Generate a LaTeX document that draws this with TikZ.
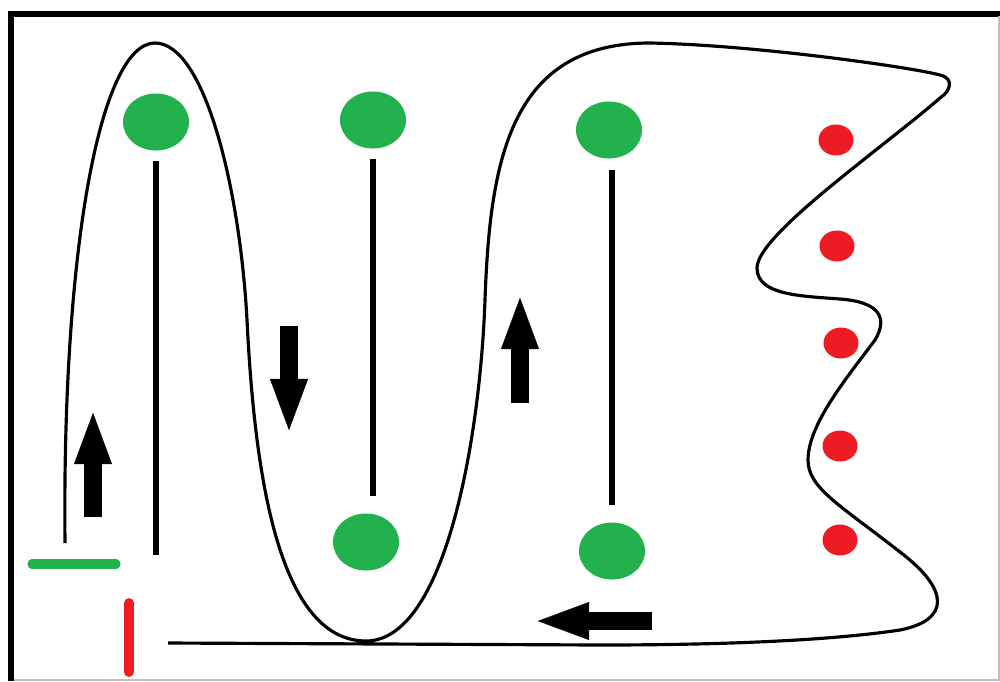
\documentclass[tikz,border=0pt]{standalone}
\usepackage{tikz}
\usetikzlibrary{arrows.meta,shapes.geometric}
\definecolor{paintgreen}{RGB}{34,177,76}
\definecolor{paintred}{RGB}{237,28,36}

\begin{document}
\begin{tikzpicture}[x=0.01cm,y=-0.01cm]
            \tikzstyle{pod}=[ellipse,fill=paintgreen,minimum width=0.66cm,minimum height=0.57cm,inner sep=0pt]
            \tikzstyle{reddot}=[ellipse,fill=paintred,minimum width=0.35cm,minimum height=0.31cm,inner sep=0pt]
            \tikzstyle{stemline}=[line width=1.7pt]
            \tikzstyle{flowarrow}=[line width=5.1pt,-{Triangle[length=0.56cm,width=0.33cm]}]
            \tikzstyle{route}=[line width=0.9pt]
            \useasboundingbox (0,0) rectangle (1000,681);

            % frame
            \draw[line width=1.6pt] (1000,14) -- (11,14) -- (11,681);
            \draw[gray!50,line width=0.4pt] (999,16) -- (999,680) -- (14,680);

            \foreach \num/\x/\y in {1/156/122, 2/373/120, 3/609/130, 4/366/542, 5/612/551}
                    \node[pod] (G-\num) at (\x,\y) {};
            \foreach \num/\x/\y in {1/836/140, 2/837/246, 3/841/343, 4/840/446, 5/840/540}
                    \node[reddot] (R-\num) at (\x,\y) {};

                \coordinate (foot) at (156,555);
                \draw[stemline,shorten <=2.8pt] (G-1) -- (foot);
                \draw[stemline,shorten <=2.8pt,shorten >=4.8pt] (G-2) -- (G-2 |- G-4.north);
                \draw[stemline,shorten <=3pt,shorten >=4.8pt] (G-5 |- G-3.south) -- (G-5.north);

                \foreach \lbl/\xa/\ya/\xb/\yb in {up-1/93/517/93/408, down/289/326/289/435, up-2/520/403/520/293, back/652/621/533/621}
                {
                    \coordinate (\lbl-a) at (\xa,\ya);
                    \coordinate (\lbl-b) at (\xb,\yb);
                    \draw[flowarrow] (\lbl-a) -- (\lbl-b);
                }

                \coordinate (gbar-a) at (32,564);
                \coordinate (gbar-b) at (116,564);
                \coordinate (rbar-a) at (129,603);
                \coordinate (rbar-b) at (129,672);
                \draw[paintgreen,line width=2.6pt,line cap=round] (gbar-a) -- (gbar-b);
                \draw[paintred,line width=2.8pt,line cap=round] (rbar-a) -- (rbar-b);

                \draw[route] (65,543) .. controls (62,250) and (100,43) .. (155,43)
                    .. controls (205,43) and (240,190) .. (247,320)
                    .. controls (254,460) and (275,641) .. (366,641)
                    .. controls (445,641) and (480,440) .. (485,300)
                    .. controls (490,160) and (510,43) .. (650,43)
                    .. controls (760,45) and (930,70) .. (943,76)
                    .. controls (952,79) and (952,90) .. (940,98)
                    .. controls (880,150) and (757,235) .. (757,268)
                    .. controls (757,295) and (800,296) .. (840,299)
                    .. controls (880,302) and (888,318) .. (875,340)
                    .. controls (845,380) and (808,425) .. (808,460)
                    .. controls (808,488) and (840,505) .. (900,552)
                    .. controls (950,590) and (950,620) .. (900,630)
                    .. controls (820,642) and (700,645) .. (600,645) -- (168,643);
        \end{tikzpicture}
\end{document}
